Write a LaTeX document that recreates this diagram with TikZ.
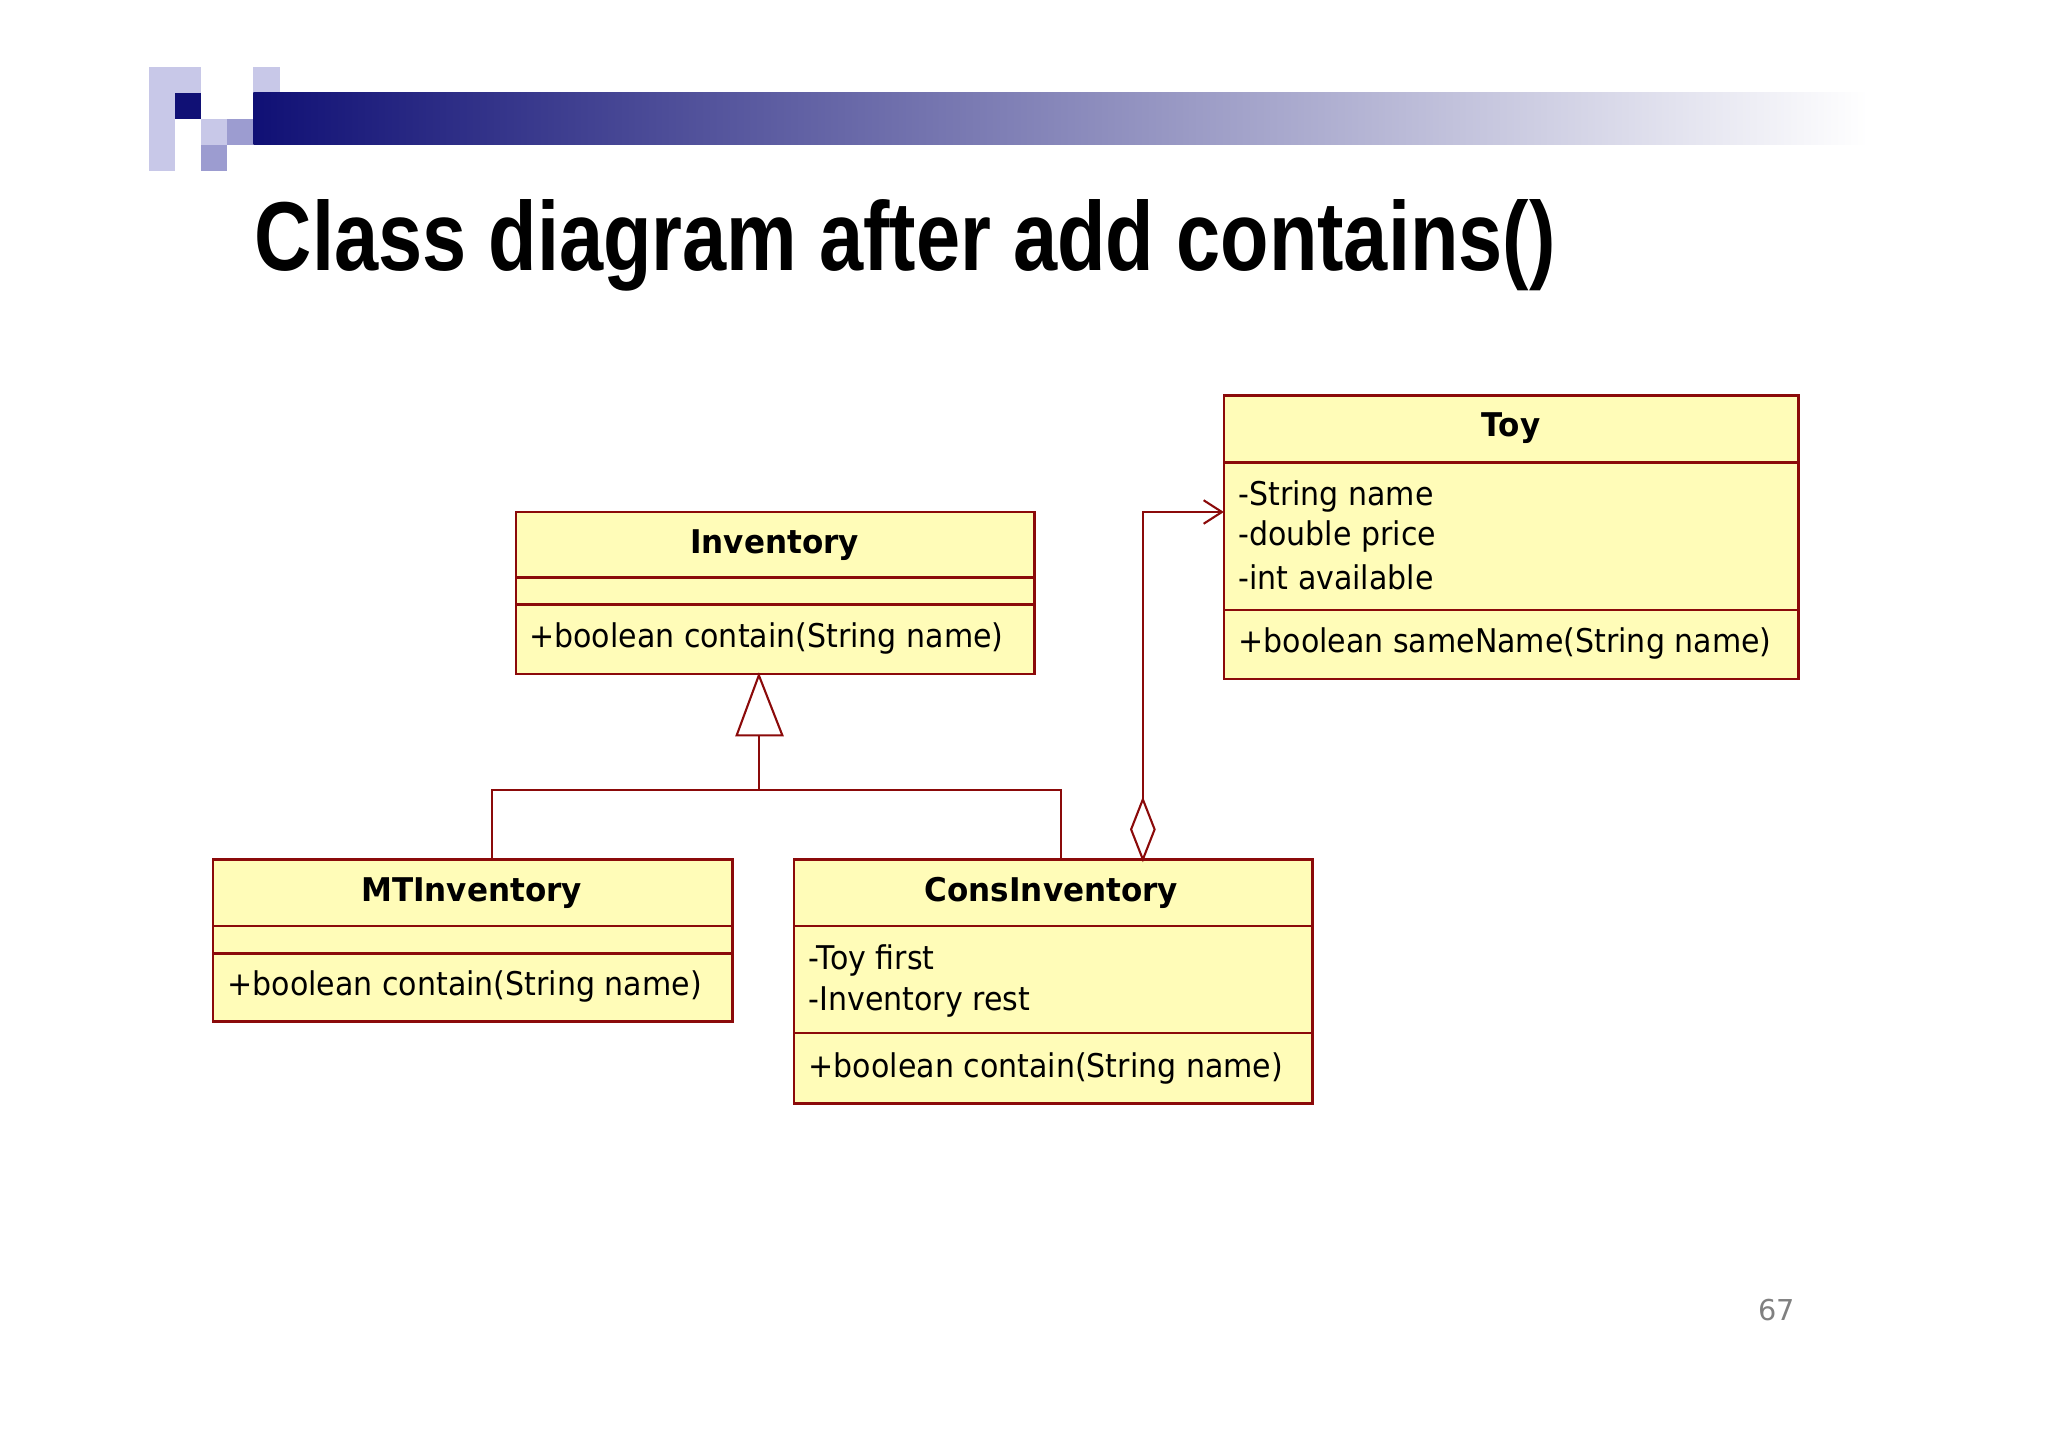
\documentclass[tikz,border=0pt]{standalone}
\usepackage{fontspec}
\setmainfont{DejaVu Sans}
\newfontfamily\titlefont{Liberation Sans}
\usetikzlibrary{arrows.meta}
\definecolor{bord}{HTML}{8B0A0A}
\definecolor{fillc}{HTML}{FFFCB8}
\definecolor{navy}{HTML}{101075}
\definecolor{lav}{HTML}{C8C8E8}
\definecolor{lav2}{HTML}{9C9CD0}
\tikzset{box/.style={draw=bord,fill=fillc,line width=2pt},
 sep/.style={draw=bord,line width=2pt},
 conn/.style={draw=bord,line width=1.6pt},
 txt/.style={anchor=west,inner sep=0pt,xscale=0.92,font=\fontsize{25}{29}\selectfont},
 hd/.style={xscale=0.95,font=\bfseries\fontsize{25}{29}\selectfont}}
\begin{document}
\begin{tikzpicture}[x=1pt,y=-1pt]
\useasboundingbox (0,0) rectangle (1568,1108);
% logo
\fill[lav] (114,51) rectangle (134,131);
\fill[lav] (134,51) rectangle (154,71);
\fill[lav] (194,51) rectangle (214,71);
\fill[lav2] (174,91) rectangle (194,111);
\fill[lav2] (154,111) rectangle (174,131);
\fill[lav] (154,91) rectangle (174,111);
\fill[navy] (134,71) rectangle (154,91);
\shade[left color=navy,right color=white] (194,71) rectangle (1430,111);
\node[anchor=west,inner sep=0pt,font=\titlefont\bfseries\fontsize{75}{78}\selectfont,xscale=0.81] (title) at (195,188) {Class diagram after add contains()};
% Toy
\path[box] (937,303) rectangle (1377,520);
\draw[sep] (937,354) -- (1377,354) (937,467) -- (1377,467);
\node[hd] (toyn) at (1157,328) {Toy};
\node[txt] (toya) at (948,380) {-String name};
\node[txt] (toyb) at (948,411) {-double price};
\node[txt] (toyc) at (948,442) {-int available};
\node[txt] (toym) at (948,493) {+boolean sameName(String name)};
% Inventory
\path[box] (395,392) rectangle (792,516);
\draw[sep] (395,442) -- (792,442) (395,463) -- (792,463);
\node[hd] (invn) at (593,417) {Inventory};
\node[txt] (invm) at (405,489) {+boolean contain(String name)};
% MT
\path[box] (163,658) rectangle (561,782);
\draw[sep] (163,709) -- (561,709) (163,730) -- (561,730);
\node[hd] (mtn) at (361,684) {MTInventory};
\node[txt] (mtm) at (174,755) {+boolean contain(String name)};
% Cons
\path[box] (608,658) rectangle (1005,845);
\draw[sep] (608,709) -- (1005,709) (608,791) -- (1005,791);
\node[hd] (cn) at (805,684) {ConsInventory};
\node[txt] (ca) at (619,735) {-Toy first};
\node[txt] (cb) at (619,767) {-Inventory rest};
\node[txt] (cm) at (619,818) {+boolean contain(String name)};
% generalization
\coordinate (tip) at (581,517);
\draw[conn,fill=white] (tip) -- (599,563) -- (564,563) -- cycle;
\draw[conn] (581,563) -- (581,605);
\draw[conn] (377,658) -- (377,605) -- (812,605) -- (812,658);
% aggregation
\draw[conn,fill=white] (875,658) -- (884,635) -- (875,612) -- (866,635) -- cycle;
\draw[conn,-{Straight Barb[length=14pt,width=18pt]}] (875,612) -- (875,392) -- (937,392);
\node[font=\fontsize{22}{24}\selectfont,text=gray] (pg) at (1360,1003) {67};
\end{tikzpicture}
\end{document}
